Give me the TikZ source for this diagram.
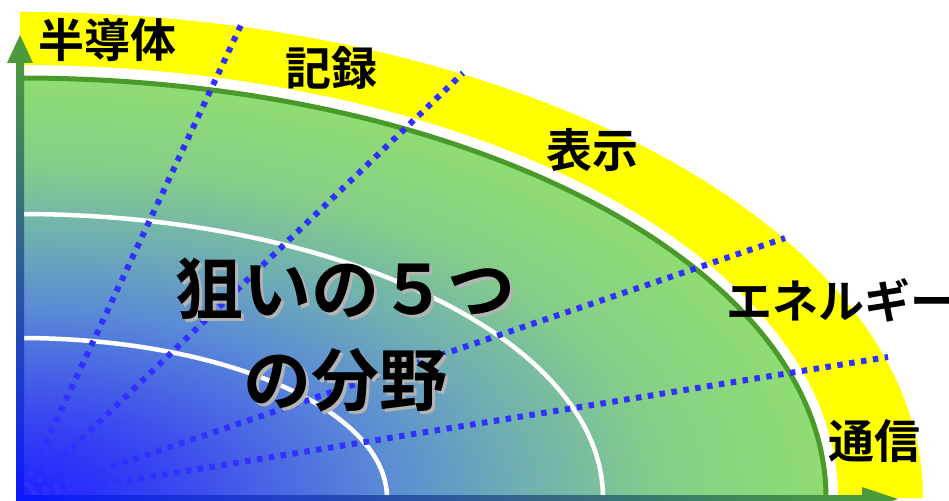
\documentclass[tikz,border=0pt]{standalone}
\usepackage{fontspec}
\newfontfamily\jp{Noto Sans CJK JP}[BoldFont={Noto Sans CJK JP Bold}]
\definecolor{ylw}{HTML}{FFFF00}
\definecolor{grborder}{HTML}{4A9A2A}
\definecolor{axgreen}{HTML}{4C9A3C}
\definecolor{axblue}{HTML}{0A18FF}
\definecolor{dotblue}{HTML}{3030FF}
\definecolor{shadowgray}{HTML}{B4B4B4}
\definecolor{ca}{HTML}{2020FF}
\definecolor{cb}{HTML}{3A48F0}
\definecolor{cc}{HTML}{5A8AD6}
\definecolor{cd}{HTML}{70B0B0}
\definecolor{ce}{HTML}{86CE88}
\definecolor{cf}{HTML}{90DC72}
\pgfdeclareradialshading{fieldshade}{\pgfpoint{0bp}{0bp}}{color(0bp)=(ca); color(5bp)=(cb); color(11.25bp)=(cc); color(15.75bp)=(cd); color(20bp)=(ce); color(25bp)=(cf); color(50bp)=(cf)}
\tikzset{
  lbl/.style={font=\jp\bfseries\fontsize{46}{46}\selectfont, text=black, inner sep=0pt},
  big/.style={font=\jp\bfseries\fontsize{68}{68}\selectfont, inner sep=0pt},
  dotline/.style={dotblue, line width=6, dash pattern=on 5.5pt off 6.5pt},
  whitearc/.style={white, line width=4.5},
}
\begin{document}
\begin{tikzpicture}[x=1pt,y=-1pt]
\useasboundingbox (0,0) rectangle (949,500);
\coordinate (O) at (20,498);
% yellow band
\fill[ylw] (O) -- ([shift={(903,0)}]O) arc[start angle=0,end angle=-90,x radius=903,y radius=486] -- cycle;
% white gap
\fill[white] (O) -- ([shift={(818,0)}]O) arc[start angle=0,end angle=-90,x radius=818,y radius=433] -- cycle;
% gradient field
\begin{scope}
  \clip (O) -- ([shift={(806,0)}]O) arc[start angle=0,end angle=-90,x radius=806,y radius=420] -- cycle;
  \shade[shading=fieldshade] (O) ellipse [x radius=806, y radius=420];
\end{scope}
\draw[grborder, line width=5] ([shift={(806,0)}]O) arc[start angle=0,end angle=-90,x radius=806,y radius=420];
% white arcs
\draw[whitearc] ([shift={(583,0)}]O) arc[start angle=0,end angle=-90,x radius=583,y radius=284];
\draw[whitearc] ([shift={(367,0)}]O) arc[start angle=0,end angle=-90,x radius=367,y radius=160];
% dotted rays
\coordinate (r1) at (241,25);
\coordinate (r2) at (463,73);
\coordinate (r3) at (785,238);
\coordinate (r4) at (888,357);
\foreach \r in {r1,r2,r3,r4} \draw[dotline] (O) -- (\r);
% axes
\shade[bottom color=axblue, top color=axgreen] (16,500) rectangle (24,60);
\fill[axgreen] (7,63) -- (20,35) -- (33,63) -- cycle;
\shade[left color=axblue, right color=axgreen] (16,495) rectangle (866,503);
\fill[axgreen] (862,487) -- (898,499) -- (862,511) -- cycle;
% labels
\node[lbl] (t1) at (107,40) {半導体};
\node[lbl] (t2) at (331,68) {記録};
\node[lbl] (t3) at (592,150) {表示};
\node[lbl] (t4) at (841,300) {エネルギー};
\node[lbl] (t5) at (874,441) {通信};
% main text
\node[big, text=shadowgray] (s1) at (348,292) {狙いの５つ};
\node[big, text=black] (m1) at (345,289) {狙いの５つ};
\node[big, text=shadowgray] (s2) at (348,383) {の分野};
\node[big, text=black] (m2) at (345,380) {の分野};
\end{tikzpicture}
\end{document}
